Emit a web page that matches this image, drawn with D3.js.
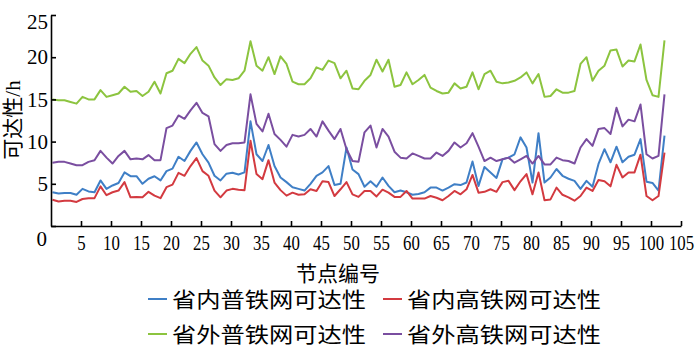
<!DOCTYPE html>
<meta charset="utf-8" />
<title>节点可达性</title>
<style>
  body { margin: 0; background: #fff; }
  svg { display: block; }
  .axis path, .axis line { stroke: #000; stroke-width: 1.6px; }
  .axis text { font-family: "Liberation Serif", "Times New Roman", serif; font-size: 21px; fill: #000; }
  .cjk { font-family: "Liberation Serif", "Noto Sans CJK SC", sans-serif; fill: #000; }
  .series { fill: none; stroke-width: 2px; stroke-linejoin: round; }
</style>
<body>
<svg width="700" height="350"></svg>
<script src="https://d3js.org/d3.v7.min.js"></script>
<script>
// 节点编号 0..102, one value per node
const provNormal = [4.0,3.85,3.9,3.9,3.7,4.4,4.1,4.0,5.4,4.4,4.8,5.1,6.35,5.9,5.9,5.0,5.6,5.9,5.4,6.5,
  6.8,8.2,7.7,8.9,9.9,8.5,7.5,5.95,5.4,6.2,6.3,6.1,6.35,12.4,8.5,7.7,9.6,7.1,5.75,5.2,
  4.6,4.4,4.2,5.0,5.95,6.35,7.1,4.85,5.0,9.3,6.7,6.15,4.65,5.3,4.65,5.75,4.75,4.0,4.2,4.0,
  3.7,3.8,4.0,4.55,4.55,4.2,4.55,4.95,4.85,5.15,7.65,4.75,7.0,6.35,5.7,7.9,8.1,8.5,10.5,9.3,
  5.15,11.0,5.15,5.75,6.75,5.95,5.6,5.35,4.4,5.35,4.65,7.35,9.1,7.55,9.4,7.55,8.2,8.45,10.3,5.25,
  5.1,4.2,10.7];
const provHigh = [3.1,2.9,3.0,3.0,2.85,3.2,3.3,3.3,4.7,3.65,4.0,4.2,5.2,3.4,3.45,3.4,4.05,3.6,3.3,4.6,
  4.9,6.3,5.95,7.1,8.05,6.5,5.95,4.2,3.4,4.2,4.4,4.3,4.25,10.1,6.15,5.55,7.8,5.15,4.25,3.6,
  3.95,3.7,3.75,4.35,4.15,5.3,5.2,3.55,4.35,5.2,3.75,3.45,4.15,4.15,3.5,4.3,3.95,3.45,3.45,4.15,
  3.25,3.25,3.25,3.55,3.35,3.05,3.55,4.15,3.75,4.35,6.05,3.95,4.05,4.35,4.05,5.2,5.35,4.25,5.3,6.15,
  3.75,6.35,3.05,3.15,4.55,3.7,3.4,3.0,3.55,4.55,4.15,5.45,5.3,4.7,7.25,5.75,6.35,6.35,8.45,3.55,
  3.05,3.55,8.7];
const outNormal = [15.0,14.9,14.9,14.7,14.5,15.3,15.0,15.0,16.1,15.3,15.5,15.7,16.5,15.9,16.0,15.4,15.9,17.1,15.7,18.1,
  18.4,19.8,19.3,20.4,21.2,19.6,19.0,17.6,16.7,17.4,17.3,17.5,18.4,21.9,19.0,18.4,20.0,18.0,20.1,19.2,
  17.1,16.8,16.8,17.5,18.8,18.5,19.6,19.3,17.5,18.4,16.3,16.2,17.2,17.9,19.7,18.3,19.7,16.5,16.7,18.2,
  16.8,17.3,17.9,16.4,16.0,15.7,15.8,16.9,16.3,16.5,18.2,16.2,18.0,18.4,17.1,16.9,17.0,17.2,17.6,18.2,
  16.9,18.0,15.3,15.4,16.2,15.8,15.8,16.0,19.2,20.0,17.2,18.4,19.0,20.8,20.9,18.9,19.6,19.5,21.5,17.3,
  15.5,15.3,22.0];
const outHigh = [7.5,7.6,7.6,7.4,7.2,7.2,7.6,7.8,8.9,8.1,7.4,8.3,8.9,7.9,8.0,7.9,8.4,7.8,7.8,11.6,
  11.9,13.1,12.7,13.7,14.6,13.4,13.0,9.7,8.9,9.6,9.8,9.8,9.9,15.6,12.1,11.2,13.3,10.9,10.2,9.4,
  10.8,10.6,10.8,11.5,10.6,12.4,11.3,10.3,11.5,9.1,7.7,7.6,11.1,11.9,9.3,11.5,10.6,8.8,8.1,8.0,
  8.6,8.3,8.0,8.0,8.7,8.3,8.9,9.9,9.3,9.8,11.0,9.4,7.7,8.1,7.7,7.9,8.1,7.5,7.9,8.3,
  7.4,8.3,7.3,7.3,8.1,7.8,7.7,7.4,9.3,10.3,9.5,11.5,11.6,10.9,14.0,11.8,12.6,12.4,14.4,8.5,
  8.0,8.3,15.6];

const seriesNames = ["省内普铁网可达性", "省内高铁网可达性", "省外普铁网可达性", "省外高铁网可达性"];
const seriesColors = ["#3f7fc6", "#d33a40", "#8cc43f", "#7a4ea0"];
const xTicks = [5, 10, 15, 20, 25, 30, 35, 40, 45, 50, 55, 60, 65, 70, 75, 80, 85, 90, 95, 100, 105];
const yTicks = [0, 5, 10, 15, 20, 25];

const svg = d3.select("svg");
const x = d3.scaleLinear().domain([0, 105]).range([51, 681]);
const y = d3.scaleLinear().domain([0, 25]).range([226, 15]);

const allSeries = [provNormal, provHigh, outNormal, outHigh];
const line = d3.line().x((d, i) => x(i + 0.25)).y(d => y(d));

svg.append("g").selectAll("path")
  .data(allSeries)
  .join("path")
  .attr("class", "series")
  .attr("stroke", (d, i) => seriesColors[i])
  .attr("d", line);

// axes, ticks pointing inward
const yAxis = svg.append("g")
  .attr("class", "axis")
  .attr("transform", `translate(${x(0)},0)`)
  .call(d3.axisLeft(y).tickValues(yTicks).tickSize(-5).tickPadding(3).tickSizeOuter(0));
yAxis.selectAll(".tick").filter(d => d === 25).select("text").attr("dy", "0.62em");
yAxis.selectAll(".tick").filter(d => d === 0).select("text").attr("dy", "0.95em").attr("x", -4);

const xAxis = svg.append("g")
  .attr("class", "axis")
  .attr("transform", `translate(0,${y(0)})`)
  .call(d3.axisBottom(x).tickValues(xTicks).tickSize(-5).tickPadding(9).tickSizeOuter(0));
xAxis.selectAll(".tick text")
  .attr("textLength", d => String(d).length * 8.4)
  .attr("lengthAdjust", "spacingAndGlyphs");

// axis titles
svg.append("text")
  .attr("class", "cjk")
  .attr("transform", "translate(20,120) rotate(-90)")
  .attr("text-anchor", "middle")
  .attr("font-size", 21)
  .text("可达性/h");

svg.append("text")
  .attr("class", "cjk")
  .attr("x", 338).attr("y", 281)
  .attr("text-anchor", "middle")
  .attr("font-size", 21)
  .text("节点编号");

// legend
const legend = svg.append("g")
  .selectAll("g")
  .data(seriesNames)
  .join("g")
  .attr("transform", (d, i) => `translate(${i % 2 === 0 ? 148 : 383},${i < 2 ? 299 : 334})`);

legend.append("line")
  .attr("x1", 0).attr("x2", 19)
  .attr("stroke", (d, i) => seriesColors[i])
  .attr("stroke-width", 2);

legend.append("text")
  .attr("class", "cjk")
  .attr("x", 24).attr("dy", "0.36em")
  .attr("font-size", 21)
  .attr("textLength", 194)
  .attr("lengthAdjust", "spacingAndGlyphs")
  .text(d => d);
</script>
</body>
